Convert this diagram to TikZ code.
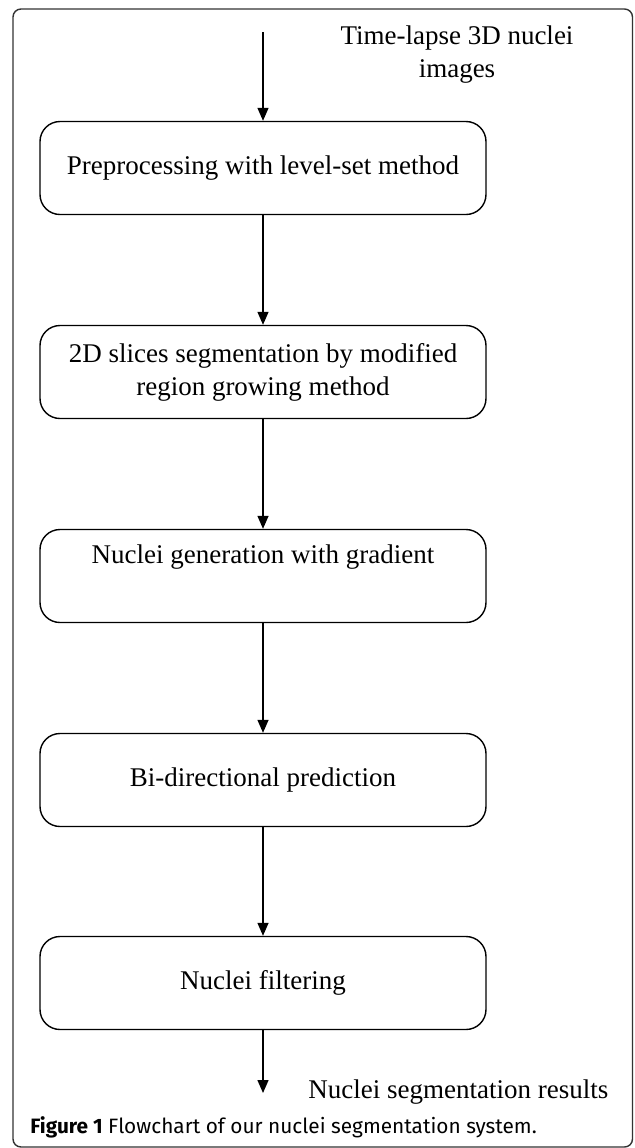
\documentclass[tikz,border=0pt]{standalone}
\usepackage{fontspec}
\setmainfont{Liberation Serif}
\newfontfamily\capfont{Fira Sans}
\usetikzlibrary{arrows.meta}
\tikzset{
  stage/.style={draw, rounded corners=10pt, line width=0.7pt, minimum width=223pt, minimum height=46.5pt, align=center, inner sep=0pt, font=\fontsize{13.5}{16.5}\selectfont},
  note/.style={align=center, inner sep=0pt, font=\fontsize{13.5}{16.5}\selectfont},
  flow/.style={-{Triangle[length=6.5pt,width=5.5pt]}, line width=0.7pt}
}
\begin{document}
\begin{tikzpicture}[x=0.5pt,y=-0.5pt]
\useasboundingbox (0,0) rectangle (634,1148);
\draw[black!80, line width=0.7pt, rounded corners=4pt] (13,9) rectangle (632.5,1147);
\node[note] (src) at (457,55) {Time-lapse 3D nuclei\\images};
\coordinate (in) at (263,32);
\node[stage] (pre) at (263,168) {Preprocessing with level-set method};
\node[stage] (seg) at (263,372) {2D slices segmentation by modified\\region growing method};
\node[stage] (gen) at (263,576) {Nuclei generation with gradient\\\strut};
\node[stage] (pred) at (263,780) {Bi-directional prediction};
\node[stage] (filt) at (263,983) {Nuclei filtering};
\coordinate (out) at (263,1093);
\node[note, anchor=west] (res) at (308,1092) {Nuclei segmentation results};
\node[anchor=west, inner sep=0pt, font=\capfont\fontsize{10.4}{12}\selectfont] (cap) at (30,1127) {\textbf{Figure 1} Flowchart of our nuclei segmentation system.};
\foreach \a/\b in {in/pre, pre/seg, seg/gen, gen/pred, pred/filt, filt/out}
  \draw[flow] (\a) -- (\b);
\end{tikzpicture}
\end{document}
